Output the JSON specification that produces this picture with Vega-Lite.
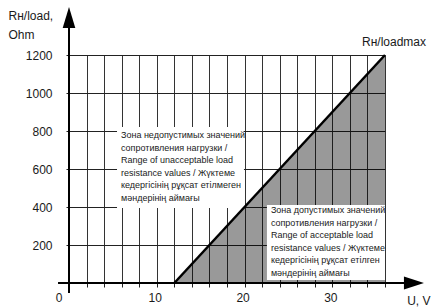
{
  "$schema": "https://vega.github.io/schema/vega-lite/v6.json",
  "width": 316,
  "height": 228,
  "autosize": "none",
  "padding": {"left": 69, "top": 55, "right": 46, "bottom": 24},
  "background": "white",
  "config": {"view": {"stroke": null}},
  "resolve": {"axis": {"x": "independent", "y": "independent"}},
  "datasets": {
    "tri": [{"u": 12, "r": 0}, {"u": 36, "r": 1200}],
    "boxes": [
      {"u1": 5.47, "u2": 19.93, "r1": 395, "r2": 821},
      {"u1": 22.55, "u2": 36, "r1": 15.8, "r2": 410.5}
    ],
    "notes": [
      {"u": 5.92, "r": 763, "text": ["Зона недопустимых значений", "сопротивления нагрузки /", "Range of unacceptable load", "resistance values / Жүктеме", "кедергісінің рұқсат етілмеген", "мəндерінің аймағы"]},
      {"u": 23.0, "r": 368, "text": ["Зона допустимых значений", "сопротивления нагрузки /", "Range of acceptable load", "resistance values / Жүктеме", "кедергісінің рұқсат етілген", "мəндерінің аймағы"]}
    ],
    "axislines": [
      {"u1": -1.25, "u2": 38.2, "r1": 0, "r2": 0},
      {"u1": 0, "u2": 0, "r1": -52, "r2": 1345}
    ],
    "arrows": [
      {"u": 39.3, "r": 0, "dir": "x"},
      {"u": 0, "r": 1397, "dir": "y"}
    ],
    "top": [{"u": 36, "r": 1200, "text": "Rн/loadmax"}]
  },
  "layer": [
    {
      "data": {"name": "tri"},
      "mark": {"type": "area", "fill": "black", "fillOpacity": 0.4, "strokeWidth": 0},
      "encoding": {
        "x": {
          "field": "u", "type": "quantitative",
          "scale": {"domain": [0, 36], "nice": false, "zero": false},
          "axis": {
            "values": [0, 2, 4, 6, 8, 10, 12, 14, 16, 18, 20, 22, 24, 26, 28, 30, 32, 34, 36],
            "grid": true, "gridColor": "#333", "gridWidth": 1,
            "domain": false,
            "ticks": true, "tickSize": 4, "tickColor": "#222", "tickWidth": 1,
            "labelExpr": "datum.value % 10 == 0 ? datum.label : ''",
            "labelFont": "Liberation Sans", "labelFontSize": 12, "labelColor": "#1a1a1a",
            "labelPadding": 5,
            "labelAlign": {"condition": {"test": "datum.value == 0", "value": "right"}, "value": "center"},
            "labelOffset": {"condition": {"test": "datum.value == 0", "value": -7}, "value": -2},
            "labelFlush": false, "labelOverlap": false, "labelBound": false,
            "title": "U, V",
            "titleX": 361, "titleY": 21, "titleAlign": "right", "titleBaseline": "alphabetic",
            "titleFont": "Liberation Sans", "titleFontSize": 12, "titleFontWeight": "normal", "titleColor": "#1a1a1a"
          }
        },
        "y": {
          "field": "r", "type": "quantitative",
          "scale": {"domain": [0, 1200], "nice": false, "zero": false},
          "axis": {
            "values": [0, 200, 400, 600, 800, 1000, 1200],
            "format": "d",
            "grid": true, "gridColor": "#222", "gridWidth": 1,
            "domain": false,
            "ticks": true, "tickSize": 3, "tickColor": "#222", "tickWidth": 1,
            "labelExpr": "datum.value == 0 ? '' : datum.label",
            "labelFont": "Liberation Sans", "labelFontSize": 12, "labelColor": "#1a1a1a",
            "labelPadding": 14, "labelFlush": false, "labelOverlap": false, "labelBound": false,
            "title": ["Rн/load,", "Ohm"],
            "titleAngle": 0, "titleX": -61, "titleY": -36, "titleAlign": "left", "titleBaseline": "alphabetic",
            "titleLineHeight": 19,
            "titleFont": "Liberation Sans", "titleFontSize": 12, "titleFontWeight": "normal", "titleColor": "#1a1a1a"
          }
        },
        "y2": {"datum": 0}
      }
    },
    {
      "data": {"name": "boxes"},
      "mark": {"type": "rect", "fill": "white", "strokeWidth": 0},
      "encoding": {
        "x": {"field": "u1", "type": "quantitative", "axis": null},
        "x2": {"field": "u2"},
        "y": {"field": "r1", "type": "quantitative", "axis": null},
        "y2": {"field": "r2"}
      }
    },
    {
      "data": {"name": "tri"},
      "mark": {"type": "line", "color": "black", "strokeWidth": 2.5},
      "encoding": {
        "x": {"field": "u", "type": "quantitative", "axis": null},
        "y": {"field": "r", "type": "quantitative", "axis": null}
      }
    },
    {
      "data": {"name": "axislines"},
      "mark": {"type": "rule", "color": "black", "strokeWidth": 2},
      "encoding": {
        "x": {"field": "u1", "type": "quantitative", "axis": null},
        "x2": {"field": "u2"},
        "y": {"field": "r1", "type": "quantitative", "axis": null},
        "y2": {"field": "r2"}
      }
    },
    {
      "data": {"name": "arrows"},
      "transform": [{"filter": "datum.dir == 'x'"}],
      "mark": {"type": "point", "filled": true, "color": "black", "opacity": 1, "shape": "M-1,-0.65L1,0L-1,0.65Z", "size": 400},
      "encoding": {
        "x": {"field": "u", "type": "quantitative", "axis": null},
        "y": {"field": "r", "type": "quantitative", "axis": null}
      }
    },
    {
      "data": {"name": "arrows"},
      "transform": [{"filter": "datum.dir == 'y'"}],
      "mark": {"type": "point", "filled": true, "color": "black", "opacity": 1, "shape": "M-0.6,1L0,-1L0.6,1Z", "size": 441},
      "encoding": {
        "x": {"field": "u", "type": "quantitative", "axis": null},
        "y": {"field": "r", "type": "quantitative", "axis": null}
      }
    },
    {
      "data": {"name": "notes"},
      "mark": {"type": "text", "align": "left", "baseline": "alphabetic", "font": "Liberation Sans", "fontSize": 9, "lineHeight": 12.5, "color": "#1a1a1a"},
      "encoding": {
        "x": {"field": "u", "type": "quantitative", "axis": null},
        "y": {"field": "r", "type": "quantitative", "axis": null},
        "text": {"field": "text"}
      }
    },
    {
      "data": {"name": "top"},
      "mark": {"type": "text", "align": "right", "baseline": "alphabetic", "dx": 41, "dy": -9, "font": "Liberation Sans", "fontSize": 12, "color": "#1a1a1a"},
      "encoding": {
        "x": {"field": "u", "type": "quantitative", "axis": null},
        "y": {"field": "r", "type": "quantitative", "axis": null},
        "text": {"field": "text"}
      }
    }
  ]
}
